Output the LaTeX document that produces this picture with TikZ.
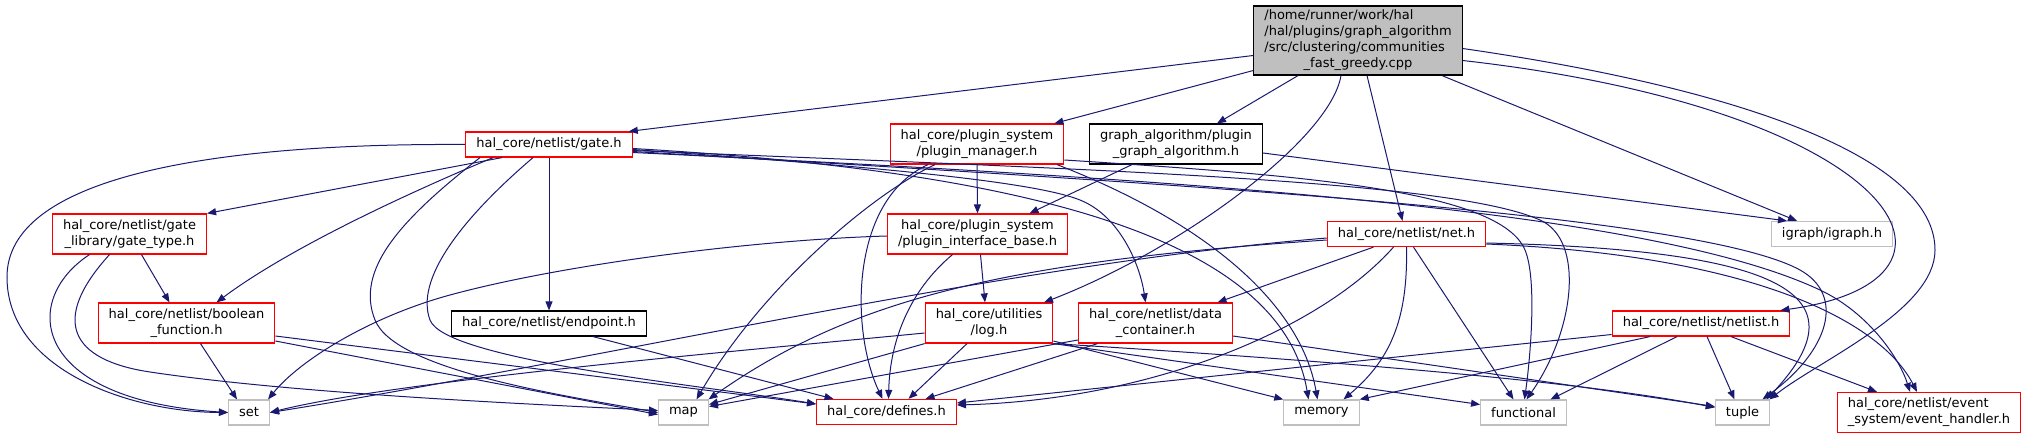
\documentclass[tikz,border=0pt]{standalone}
\usepackage{fontspec}
\setmainfont{DejaVu Sans}
\usepackage{xcolor}
\definecolor{bleunuit}{HTML}{191970}
\definecolor{grisbord}{HTML}{BFBFBF}
\usetikzlibrary{arrows.meta,positioning}

\begin{document}
\begin{tikzpicture}[x=1pt,y=-1pt,
  boite/.style={draw,line width=1.2pt,font=\fontsize{13}{16}\selectfont,inner xsep=10.5pt,inner ysep=2pt,minimum height=25pt,align=center},
  rouge/.style={boite,draw=red},
  noir/.style={boite,draw=black},
  gris/.style={boite,draw=grisbord},
  racine/.style={boite,draw=black,fill=grisbord,minimum height=69pt},
  deux/.style={minimum height=40pt},
  fl/.style={-{Triangle[length=9pt,width=7pt]},bleunuit,line width=1pt}
]
\useasboundingbox (0,0) rectangle (2027,439);
% fichier source
\node[racine] (src) at (1358,40.5) {\begin{tabular}{@{}l@{}}/home/runner/work/hal\\/hal/plugins/graph\_algorithm\\/src/clustering/communities\\\multicolumn{1}{@{}c@{}}{\_fast\_greedy.cpp}\end{tabular}};
% niveau 1
\node[rouge] (gate) at (549,144.5) {hal\_core/netlist/gate.h};
\node[rouge,deux] (pmgr) at (977,144) {hal\_core/plugin\_system\\/plugin\_manager.h};
\node[noir,deux] (galgo) at (1176,144) {graph\_algorithm/plugin\\\_graph\_algorithm.h};
% niveau 2
\node[rouge,deux] (gtype) at (129.5,234) {hal\_core/netlist/gate\\\_library/gate\_type.h};
\node[rouge,deux] (pib) at (977.5,234) {hal\_core/plugin\_system\\/plugin\_interface\_base.h};
\node[rouge] (net) at (1406.5,234) {hal\_core/netlist/net.h};
\node[gris] (igraph) at (1832,234) {igraph/igraph.h};
% niveau 3
\node[rouge,deux] (bfn) at (186.5,323) {hal\_core/netlist/boolean\\\_function.h};
\node[noir] (endp) at (549,323.5) {hal\_core/netlist/endpoint.h};
\node[rouge,deux] (log) at (989,323) {hal\_core/utilities\\/log.h};
\node[rouge,deux] (dcont) at (1155.5,323) {hal\_core/netlist/data\\\_container.h};
\node[rouge] (nlist) at (1701,323.5) {hal\_core/netlist/netlist.h};
% niveau 4
\node[gris] (set) at (249,412.5) {set};
\node[gris] (map) at (683.5,412.5) {map};
\node[rouge] (defs) at (886.5,412) {hal\_core/defines.h};
\node[gris] (mem) at (1321.5,412.5) {memory};
\node[gris] (func) at (1523.5,412.5) {functional};
\node[gris] (tuple) at (1742.5,412.5) {tuple};
\node[rouge,deux] (evh) at (1929,412.5) {\begin{tabular}{@{}l@{}}hal\_core/netlist/event\\\multicolumn{1}{@{}c@{}}{\_system/event\_handler.h}\end{tabular}};
% depuis la source
\draw[fl] ([yshift=-15pt]src.west) -- ([xshift=-4pt]gate.north east);
\draw[fl] ([yshift=-30pt]src.west) -- ([xshift=-10pt]pmgr.north east);
\draw[fl] ([xshift=-60pt]src.south) -- ([xshift=41pt]galgo.north);
\draw[fl] ([xshift=-17pt]src.south) .. controls (1330,140) and (1180,250) .. ([xshift=55pt]log.north);
\draw[fl] ([xshift=9pt]src.south) -- ([xshift=-4pt]net.north);
\draw[fl] ([xshift=84pt]src.south) -- ([xshift=-35pt]igraph.north);
\draw[fl] ([yshift=-20pt]src.east) .. controls (1900,110) and (2000,280) .. ([xshift=-10pt]nlist.north east);
\draw[fl] ([yshift=-8pt]src.east) .. controls (1750,90) and (1935,160) .. (1935,250) .. controls (1935,310) and (1820,360) .. ([xshift=27pt]tuple.north);
% gate.h
\draw[fl] (gate.west) .. controls (200,143) and (7,180) .. (7,277) .. controls (7,370) and (130,412) .. (set.west);
\draw[fl] ([xshift=-47pt]gate.south) -- (gtype.north east);
\draw[fl] ([xshift=-56pt]gate.south) .. controls (380,205) and (280,255) .. ([xshift=30pt]bfn.north);
\draw[fl] ([xshift=-69pt]gate.south) .. controls (400,220) and (355,270) .. (375,320) .. controls (395,370) and (560,395) .. (map.west);
\draw[fl] ([xshift=-16pt]gate.south) .. controls (460,220) and (415,280) .. (430,320) .. controls (445,360) and (700,385) .. ([yshift=8pt]defs.west);
\draw[fl] (gate.south) -- (endp.north);
\draw[fl] ([yshift=-5pt]gate.east) .. controls (850,165) and (1030,180) .. (1080,200) .. controls (1120,216) and (1140,265) .. ([xshift=-10pt]dcont.north);
\draw[fl] ([yshift=-4pt]gate.east) .. controls (1000,170) and (1280,230) .. ([xshift=-13pt]mem.north);
\draw[fl] ([yshift=-6pt]gate.east) .. controls (1100,170) and (1450,180) .. (1540,220) .. controls (1585,240) and (1575,330) .. ([xshift=3pt]func.north);
\draw[fl] ([yshift=-7pt]gate.east) .. controls (1200,185) and (1700,215) .. (1800,270) .. controls (1845,295) and (1830,350) .. ([xshift=20pt]tuple.north);
\draw[fl] ([yshift=-8pt]gate.east) .. controls (1200,180) and (1650,210) .. (1820,290) .. controls (1870,313.5) and (1900,360) .. ([xshift=-19pt]evh.north);
% gate_type.h
\draw[fl] ([xshift=12pt]gtype.south) -- ([xshift=-17pt]bfn.north);
\draw[fl] ([xshift=-40pt]gtype.south) .. controls (20,300) and (30,400) .. (set.west);
\draw[fl] ([xshift=-20pt]gtype.south) .. controls (50,320) and (70,360) .. (150,372) .. controls (300,394.5) and (550,405) .. ([yshift=2pt]map.west);
% boolean_function.h
\draw[fl] ([xshift=14pt]bfn.south) -- ([xshift=-12pt]set.north);
\draw[fl] ([yshift=-18pt]bfn.east) -- ([yshift=-2pt]map.west);
\draw[fl] ([yshift=-13pt]bfn.east) -- ([yshift=8pt]defs.west);
% endpoint.h
\draw[fl] ([xshift=44pt]endp.south) -- ([xshift=-53pt]defs.north);
% plugin_manager.h
\draw[fl] (pmgr.south) -- (pib.north);
\draw[fl] ([xshift=-42pt]pmgr.south) .. controls (870,195) and (760,290) .. ([xshift=13pt]map.north);
\draw[fl] ([xshift=-49pt]pmgr.south) .. controls (850,200) and (850,330) .. ([xshift=-4pt]defs.north);
\draw[fl] ([xshift=80pt]pmgr.south) .. controls (1200,220) and (1300,300) .. ([xshift=-4pt]mem.north);
\draw[fl] ([yshift=-16pt]pmgr.east) .. controls (1300,175) and (1500,190) .. (1525,250) .. controls (1537.5,280) and (1530,360) .. ([xshift=1pt]func.north);
% graph_algorithm
\draw[fl] ([xshift=-44pt]galgo.south) -- ([xshift=52pt]pib.north);
\draw[fl] ([yshift=-9pt]galgo.east) -- ([xshift=-45pt]igraph.north);
% plugin_interface_base.h
\draw[fl] ([yshift=-2pt]pib.west) .. controls (750,240) and (560,265) .. (450,295) .. controls (370,316.8) and (300,360) .. ([xshift=-2pt]set.north east);
\draw[fl] ([xshift=3pt]pib.south) -- ([xshift=-4pt]log.north);
\draw[fl] ([xshift=-25pt]pib.south) .. controls (910,290) and (890,340) .. ([xshift=2pt]defs.north);
% log.h
\draw[fl] ([yshift=-10pt]log.west) .. controls (750,350) and (400,380) .. (set.east);
\draw[fl] (log.south west) -- ([yshift=8pt]map.east);
\draw[fl] ([xshift=-22pt]log.south) -- ([xshift=22pt]defs.north);
\draw[fl] ([yshift=-18pt]log.east) -- (mem.north west);
\draw[fl] (log.south east) -- ([yshift=8pt]func.west);
\draw[fl] (log.south east) .. controls (1400,365) and (1600,385) .. ([yshift=5pt]tuple.west);
% data_container.h
\draw[fl] ([xshift=-58pt]dcont.south) -- ([xshift=39pt]defs.north);
\draw[fl] ([yshift=-17pt]dcont.west) -- ([yshift=6pt]map.east);
\draw[fl] ([yshift=-13pt]dcont.east) -- ([yshift=6pt]tuple.west);
% net.h
\draw[fl] ([yshift=-4pt]net.west) .. controls (1000,265) and (600,360) .. (set.east);
\draw[fl] ([yshift=-6pt]net.west) .. controls (1000,262) and (850,300) .. ([xshift=25pt]map.north);
\draw[fl] ([xshift=-33pt]net.south) -- ([xshift=62pt]dcont.north);
\draw[fl] ([xshift=-13pt]net.south) .. controls (1320,330) and (1150,400) .. ([yshift=7pt]defs.east);
\draw[fl] (net.south) .. controls (1408,320) and (1390,360) .. ([xshift=22pt]mem.north);
\draw[fl] ([xshift=7pt]net.south) -- ([xshift=-10pt]func.north);
\draw[fl] ([yshift=-9pt]net.east) .. controls (1800,250) and (1860,300) .. ([xshift=24pt]tuple.north);
\draw[fl] ([yshift=-10pt]net.east) .. controls (1750,255) and (1880,320) .. ([xshift=-12pt]evh.north);
% netlist.h
\draw[fl] ([yshift=-11pt]nlist.west) -- ([yshift=9pt]defs.east);
\draw[fl] ([xshift=-51pt]nlist.south) -- (mem.north east);
\draw[fl] ([xshift=-24pt]nlist.south) -- ([xshift=27pt]func.north);
\draw[fl] ([xshift=6pt]nlist.south) -- ([xshift=-8pt]tuple.north);
\draw[fl] ([xshift=30pt]nlist.south) -- ([xshift=-52pt]evh.north);
\end{tikzpicture}
\end{document}
